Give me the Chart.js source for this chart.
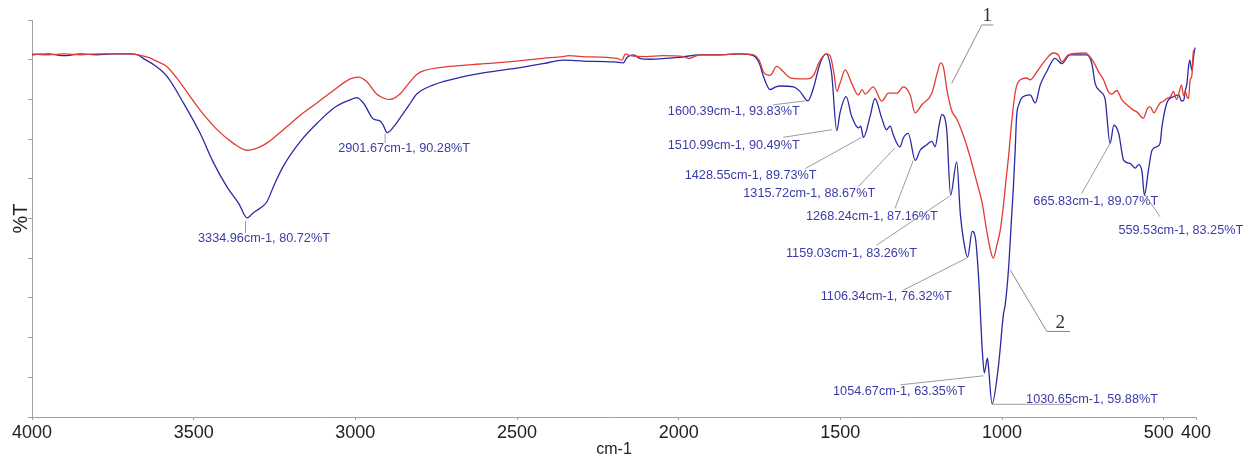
<!DOCTYPE html>
<html>
<head>
<meta charset="utf-8">
<script src="https://cdn.jsdelivr.net/npm/chart.js@4.4.1/dist/chart.umd.min.js"></script>
<style>
  html, body { margin: 0; background: #fff; }
</style>
</head>
<body>
<canvas id="chart" width="1245" height="459"></canvas>
<script>
// spectrum 1 (red)
const redWn = [4000, 3950, 3900, 3850, 3800, 3750, 3700, 3672, 3640, 3610, 3583, 3540, 3480, 3430, 3378, 3335, 3300, 3274, 3223, 3171, 3119, 3068, 3016, 2990, 2965, 2934, 2910, 2893, 2862, 2835, 2810, 2790, 2707, 2600, 2501, 2420, 2357, 2340, 2300, 2191, 2175, 2165, 2150, 2100, 2050, 1985, 1970, 1934, 1880, 1810, 1769, 1750, 1738, 1717, 1697, 1676, 1655, 1625, 1604, 1583, 1565, 1544, 1532, 1520, 1511, 1501, 1485, 1465, 1444, 1433, 1423, 1398, 1372, 1351, 1325, 1305, 1284, 1269, 1248, 1217, 1200, 1190, 1181, 1170, 1155, 1140, 1120, 1099, 1080, 1062, 1046, 1035, 1027, 1015, 1006, 996, 986, 980, 970, 959, 949, 923, 913, 892, 866, 841, 826, 815, 795, 743, 717, 700, 686, 670, 660, 645, 630, 614, 594, 583, 563, 550, 542, 530, 521, 511, 500, 490, 479, 470, 460, 453, 445, 438, 433, 428, 423, 418, 413, 408, 403];
const redT = [99.1, 99.0, 99.1, 99.0, 99.1, 99.1, 99.1, 99.0, 98.7, 98.2, 97.7, 95.8, 92.8, 90.7, 89.1, 88.3, 88.6, 89.1, 90.6, 92.2, 93.6, 95.0, 96.3, 96.5, 96.0, 94.6, 94.1, 94.0, 94.6, 95.8, 96.8, 97.2, 97.7, 98.0, 98.3, 98.6, 98.8, 98.9, 98.8, 98.6, 98.4, 99.1, 98.9, 98.8, 98.9, 98.8, 98.6, 99.0, 99.0, 99.1, 99.0, 98.3, 97.1, 96.7, 97.7, 97.1, 96.4, 96.3, 96.3, 96.7, 98.2, 99.1, 98.9, 97.0, 94.9, 95.8, 97.3, 95.8, 94.5, 95.1, 94.6, 95.4, 93.8, 94.7, 94.7, 95.4, 94.5, 92.5, 93.4, 94.7, 97.0, 98.1, 97.6, 95.0, 92.7, 91.8, 90.0, 87.6, 85.0, 82.5, 79.0, 77.0, 76.2, 77.8, 79.2, 82.0, 85.5, 87.5, 91.5, 94.8, 96.0, 96.4, 96.2, 97.1, 98.4, 99.2, 99.0, 98.2, 99.0, 99.2, 98.2, 97.0, 96.2, 94.8, 94.6, 95.0, 94.0, 93.4, 92.8, 92.6, 91.9, 93.0, 93.2, 92.5, 93.0, 93.6, 93.8, 94.1, 94.3, 94.9, 94.0, 94.7, 95.6, 94.4, 94.9, 94.3, 94.1, 96.2, 96.6, 99.4, 99.6];

// spectrum 2 (blue), labelled minima are kept in peakWn / peakT
const blueWn = [4000, 3950, 3900, 3850, 3800, 3750, 3700, 3672, 3656, 3620, 3583, 3530, 3480, 3440, 3397, 3360, 3315, 3295, 3274, 3250, 3223, 3170, 3119, 3060, 3006, 2996, 2975, 2944, 2924, 2915, 2880, 2862, 2835, 2810, 2760, 2707, 2600, 2501, 2420, 2357, 2295, 2200, 2171, 2160, 2140, 2120, 2088, 2000, 1934, 1880, 1810, 1769, 1750, 1738, 1717, 1700, 1686, 1645, 1625, 1583, 1563, 1544, 1527, 1501, 1482, 1465, 1444, 1437, 1408, 1393, 1372, 1357, 1346, 1336, 1305, 1290, 1253, 1233, 1217, 1207, 1195, 1186, 1171, 1140, 1129, 1118, 1092, 1082, 1072, 1061, 1045, 1042, 1011, 1006, 996, 990, 980, 970, 965, 959, 955, 947, 935, 913, 897, 882, 862, 836, 815, 790, 738, 722, 712, 696, 681, 654, 639, 624, 603, 588, 577, 567, 547, 536, 521, 511, 505, 490, 470, 453, 445, 438, 433, 428, 423, 419, 413, 406, 403];
const blueT = [99.0, 99.1, 98.9, 99.1, 99.0, 99.1, 99.1, 99.0, 98.6, 97.8, 96.6, 93.5, 90.2, 87.0, 84.2, 82.3, 81.3, 81.8, 82.5, 84.5, 86.5, 89.3, 91.3, 93.2, 94.1, 94.2, 93.6, 91.8, 91.6, 91.2, 91.0, 91.9, 93.3, 94.6, 95.6, 96.2, 97.0, 97.5, 98.0, 98.4, 98.3, 98.2, 98.1, 98.7, 99.0, 98.6, 98.5, 98.7, 99.0, 99.0, 99.1, 98.9, 98.0, 96.6, 95.1, 95.4, 95.5, 95.4, 94.9, 95.3, 98.0, 99.1, 96.9, 92.5, 94.3, 92.1, 90.8, 91.0, 92.1, 94.1, 91.9, 90.6, 91.0, 90.0, 89.7, 90.2, 88.3, 88.9, 89.3, 88.7, 91.0, 92.3, 90.6, 87.0, 81.2, 78.0, 79.2, 78.4, 73.8, 65.9, 65.0, 64.1, 64.1, 65.9, 69.8, 71.0, 74.9, 81.0, 84.0, 88.5, 92.0, 93.5, 94.3, 94.5, 93.6, 95.6, 97.1, 98.6, 98.0, 99.0, 99.0, 98.0, 95.8, 94.9, 94.0, 91.1, 90.2, 87.2, 86.8, 86.3, 86.7, 85.9, 86.1, 88.3, 88.7, 89.1, 91.0, 93.6, 94.3, 94.5, 93.8, 93.9, 95.0, 95.8, 97.7, 98.4, 97.3, 99.2, 99.8];

const peakWn = [3334.96, 2901.67, 1600.39, 1510.99, 1428.55, 1315.72, 1268.24, 1159.03, 1106.34, 1054.67, 1030.65, 665.83, 559.53];
const peakT = [80.72, 90.28, 93.83, 90.49, 89.73, 88.67, 87.16, 83.26, 76.32, 63.35, 59.88, 89.07, 83.25];

const xTicks = [4000, 3500, 3000, 2500, 2000, 1500, 1000, 500, 400];

// label placement around each minimum, in pixels from the minimum
const peakLayout = [
  { text: [-49, 21], from: [-1.5, 3], to: [-1.5, 15] },
  { text: [-49, 15.7], from: [-2, 1], to: [-2, 10.5] },
  { text: [-140, 10.8], from: [-3, 0], to: [-35, 4] },
  { text: [-169, 14.3], from: [-5, -1], to: [-53.5, 6.6] },
  { text: [-178.7, 37.5], from: [-2, 0], to: [-58, 31] },
  { text: [-156.6, 47], from: [-5, 1], to: [-41.6, 39.7] },
  { text: [-109.3, 56.3], from: [-2, 0], to: [-20.3, 48] },
  { text: [-164.6, 58.1], from: [-1, 1], to: [-74, 50] },
  { text: [-146.9, 39.6], from: [-1, 1], to: [-64.3, 33] },
  { text: [-151.3, 18.7], from: [-1, 3], to: [-84, 12] },
  { text: [34, -4.5], from: [0, 0.5], to: [79.6, 0.5] },
  { text: [-76.7, 58.3], from: [0, 0], to: [-28.3, 50] },
  { text: [-26, 34.7], from: [1, 0], to: [15.6, 21.4] }
];

const toPoints = (wn, t) => wn.map((w, i) => ({ x: w, y: t[i] }));
const redPoints = toPoints(redWn, redT);
const bluePoints = toPoints(blueWn, blueT)
  .concat(toPoints(peakWn, peakT))
  .sort((a, b) => b.x - a.x);

// value of a series at a wavenumber (points sorted high -> low)
function valueAt(points, w) {
  for (let i = 1; i < points.length; i++) {
    const a = points[i - 1], b = points[i];
    if (w <= a.x && w >= b.x) {
      return a.y + (b.y - a.y) * (a.x - w) / (a.x - b.x);
    }
  }
  return points[points.length - 1].y;
}

// numbered call-outs for the two curves
const curveTags = [
  { name: '1', points: redPoints, wn: 1170, from: [4.7, -7.2], elbow: [34.7, -65.5], end: [46.3, -65.5], text: [40.3, -74.5] },
  { name: '2', points: bluePoints, wn: 980, from: [1.7, 0], elbow: [38.4, 61.7], end: [61.7, 61.7], text: [51.7, 53.3] }
];

const peakLabels = {
  id: 'peakLabels',
  afterDatasetsDraw(chart) {
    const { ctx, scales: { x, y } } = chart;
    ctx.save();
    ctx.lineWidth = 1;
    ctx.strokeStyle = '#9c9c9c';
    ctx.textBaseline = 'middle';

    ctx.font = '12.7px "Liberation Sans", Arial, sans-serif';
    ctx.fillStyle = '#3b3ba8';
    ctx.textAlign = 'left';
    peakWn.forEach((wn, i) => {
      const px = x.getPixelForValue(wn);
      const py = y.getPixelForValue(peakT[i]);
      const l = peakLayout[i];
      ctx.beginPath();
      ctx.moveTo(px + l.from[0], py + l.from[1]);
      ctx.lineTo(px + l.to[0], py + l.to[1]);
      ctx.stroke();
      ctx.fillText(wn.toFixed(2) + 'cm-1, ' + peakT[i].toFixed(2) + '%T', px + l.text[0], py + l.text[1]);
    });

    ctx.font = '19px "Liberation Serif", "Times New Roman", serif';
    ctx.fillStyle = '#333';
    ctx.textAlign = 'center';
    ctx.strokeStyle = '#8c8c8c';
    curveTags.forEach(tag => {
      const ax = x.getPixelForValue(tag.wn);
      const ay = y.getPixelForValue(valueAt(tag.points, tag.wn));
      ctx.beginPath();
      ctx.moveTo(ax + tag.from[0], ay + tag.from[1]);
      ctx.lineTo(ax + tag.elbow[0], ay + tag.elbow[1]);
      ctx.lineTo(ax + tag.end[0], ay + tag.end[1]);
      ctx.stroke();
      ctx.fillText(tag.name, ax + tag.text[0], ay + tag.text[1]);
    });
    ctx.restore();
  }
};

Chart.defaults.font.family = '"Liberation Sans", Arial, sans-serif';
Chart.defaults.color = '#222';

const axisGray = '#a0a0a0';

new Chart(document.getElementById('chart'), {
  type: 'line',
  data: {
    datasets: [
      {
        label: '1',
        data: redPoints,
        borderColor: '#e23b30',
        borderWidth: 1.3,
        pointRadius: 0,
        cubicInterpolationMode: 'monotone'
      },
      {
        label: '2',
        data: bluePoints,
        borderColor: '#2a2aa6',
        borderWidth: 1.3,
        pointRadius: 0,
        cubicInterpolationMode: 'monotone'
      }
    ]
  },
  options: {
    responsive: false,
    animation: false,
    layout: { padding: { left: 0, top: 20, right: 49, bottom: 0 } },
    plugins: {
      legend: { display: false },
      tooltip: { enabled: false }
    },
    scales: {
      x: {
        type: 'linear',
        reverse: true,
        min: 400,
        max: 4000,
        afterBuildTicks: scale => { scale.ticks = xTicks.map(v => ({ value: v })); },
        afterFit: scale => { scale.height = 42; },
        ticks: {
          autoSkip: false,
          maxRotation: 0,
          padding: 2,
          font: { size: 18 },
          color: '#222',
          // nudge "500" left so it does not run into "400"
          callback: v => (v === 500 ? '500  ' : String(v))
        },
        grid: { drawOnChartArea: false, drawTicks: true, tickLength: 3, color: axisGray },
        border: { color: axisGray },
        title: {
          display: true,
          text: 'cm-1',
          font: { size: 16 },
          color: '#222',
          padding: { top: 0, bottom: 0 }
        }
      },
      y: {
        type: 'linear',
        min: 58.4,
        max: 102.9,
        afterBuildTicks: scale => {
          const step = (scale.max - scale.min) / 10;
          scale.ticks = Array.from({ length: 11 }, (_, i) => ({ value: scale.min + i * step }));
        },
        afterFit: scale => { scale.width = 32; },
        ticks: { display: false },
        grid: { drawOnChartArea: false, drawTicks: true, tickLength: 4, color: axisGray },
        border: { color: axisGray },
        title: {
          display: true,
          text: '%T',
          font: { size: 20 },
          color: '#222',
          padding: { top: 9.5, bottom: 0 }
        }
      }
    }
  },
  plugins: [peakLabels]
});
</script>
</body>
</html>
